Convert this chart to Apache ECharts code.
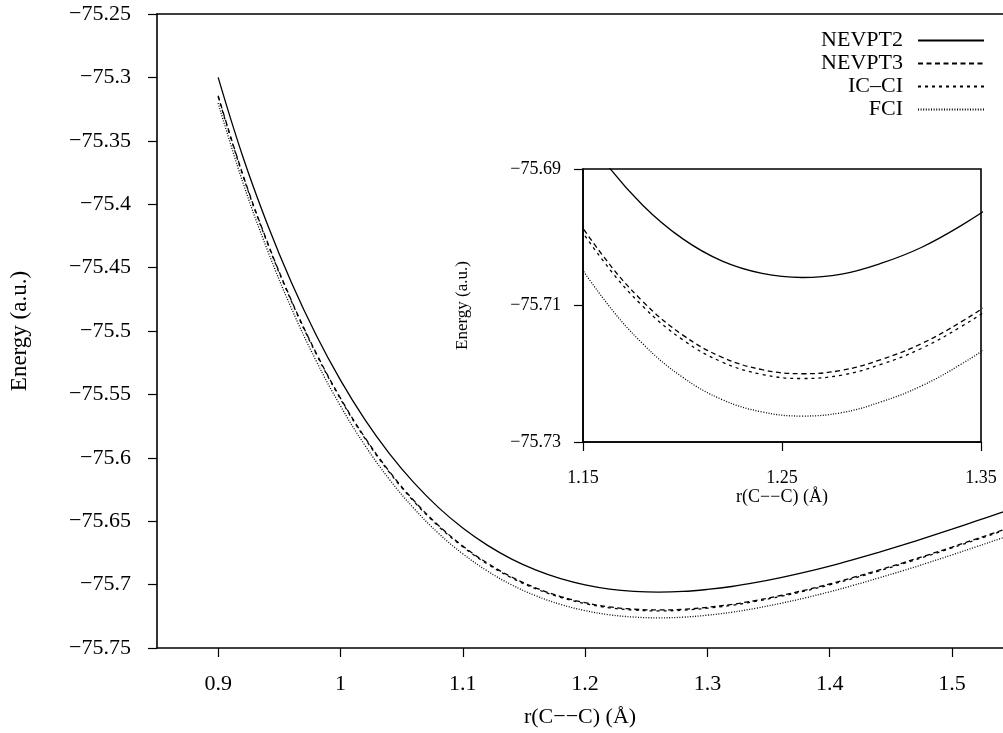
<!DOCTYPE html>
<html>
<head>
<meta charset="utf-8">
<script src="https://cdn.jsdelivr.net/npm/echarts@6/dist/echarts.min.js"></script>
<style>
    html, body { margin: 0; padding: 0; background: #fff; }
    #chart { width: 1003px; height: 733px; }
</style>
</head>
<body>
<div id="chart"></div>
<script>
'use strict';

// bond length r(C--C) in angstrom
var rValues = [0.90, 0.92, 0.94, 0.96, 0.98, 1.00, 1.02, 1.04, 1.06, 1.08,
    1.10, 1.12, 1.14, 1.16, 1.18, 1.20, 1.22, 1.24, 1.26, 1.28,
    1.30, 1.32, 1.34, 1.36, 1.38, 1.40, 1.42, 1.44, 1.46, 1.48,
    1.50, 1.52, 1.54, 1.56];

// energies (a.u.)
var nevpt2 = [-75.3000, -75.3620, -75.4152, -75.4620, -75.5030, -75.5388, -75.5699, -75.5967, -75.6196, -75.6391,
    -75.6554, -75.6689, -75.6799, -75.6886, -75.6953, -75.7002, -75.7035, -75.7053, -75.7059, -75.7054,
    -75.7038, -75.7015, -75.6983, -75.6945, -75.6902, -75.6854, -75.6801, -75.6745, -75.6687, -75.6626,
    -75.6563, -75.6498, -75.6433, -75.6367];
var nevpt3 = [-75.3145, -75.3761, -75.4293, -75.4761, -75.5171, -75.5529, -75.5840, -75.6108, -75.6337, -75.6532,
    -75.6695, -75.6830, -75.6940, -75.7027, -75.7094, -75.7143, -75.7176, -75.7194, -75.7200, -75.7195,
    -75.7179, -75.7156, -75.7124, -75.7086, -75.7043, -75.6995, -75.6942, -75.6886, -75.6828, -75.6767,
    -75.6704, -75.6639, -75.6574, -75.6508];
var icci = [-75.3152, -75.3768, -75.4300, -75.4768, -75.5178, -75.5536, -75.5847, -75.6115, -75.6344, -75.6539,
    -75.6702, -75.6837, -75.6947, -75.7034, -75.7101, -75.7150, -75.7183, -75.7201, -75.7207, -75.7202,
    -75.7186, -75.7163, -75.7131, -75.7093, -75.7050, -75.7002, -75.6949, -75.6893, -75.6835, -75.6774,
    -75.6711, -75.6646, -75.6581, -75.6515];
var fci = [-75.3203, -75.3823, -75.4355, -75.4823, -75.5233, -75.5591, -75.5902, -75.6170, -75.6399, -75.6594,
    -75.6757, -75.6892, -75.7002, -75.7089, -75.7156, -75.7205, -75.7238, -75.7256, -75.7262, -75.7257,
    -75.7241, -75.7218, -75.7186, -75.7148, -75.7105, -75.7057, -75.7004, -75.6948, -75.6890, -75.6829,
    -75.6766, -75.6701, -75.6636, -75.6570];

var seriesNames = ['NEVPT2', 'NEVPT3', 'IC\u2013CI', 'FCI'];
var seriesValues = [nevpt2, nevpt3, icci, fci];

var mainXTicks = [0.9, 1.0, 1.1, 1.2, 1.3, 1.4, 1.5];
var insetXTicks = [1.15, 1.25, 1.35];
var insetYTicks = [-75.73, -75.71, -75.69];

var font = 'Liberation Serif';
var lineTypes = ['solid', [5, 3.5], [3, 4], [1, 1.6]];

// minus sign label, trailing zero dropped like the original plot
function minusLabel(v) {
    var s = Math.abs(v).toFixed(2);
    if (s.charAt(s.length - 1) === '0') s = s.slice(0, -1);
    return (v < 0 ? '\u2212' : '') + s;
}

var myChart = echarts.init(document.getElementById('chart'));

var axisLine = {show: true, lineStyle: {color: '#000', width: 1.6}};
var axisTick = {show: true, length: 9, lineStyle: {color: '#000', width: 1.2}};

var series = [];
seriesValues.forEach(function (vals, i) {
    var data = rValues.map(function (r, k) { return [r, vals[k]]; });
    [[0, 0, 2], [2, 1, 6]].forEach(function (ax) {
        series.push({
            name: seriesNames[i],
            type: 'line',
            xAxisIndex: ax[0],
            yAxisIndex: ax[1],
            data: data,
            showSymbol: false,
            symbol: 'none',
            smooth: 0.4,
            z: ax[2],
            color: '#000',
            itemStyle: {color: '#000'},
            lineStyle: {color: '#000', width: 1.3, type: lineTypes[i]}
        });
    });
});

var option = {
    animation: false,
    color: ['#000'],
    textStyle: {fontFamily: font, color: '#000'},
    grid: [
        {left: 154, top: 14, right: 0, bottom: 82, containLabel: false},
        {left: 583, top: 169, width: 398, height: 273, show: true, z: 3,
            backgroundColor: '#fff', borderColor: '#000', borderWidth: 1.6}
    ],
    legend: {
        data: seriesNames,
        orient: 'vertical',
        align: 'right',
        right: 13,
        top: 24,
        itemWidth: 66,
        itemHeight: 10,
        itemGap: 0,
        itemStyle: {opacity: 0},
        textStyle: {fontFamily: font, fontSize: 22, color: '#000', lineHeight: 23, padding: [0, 10, 0, 0]}
    },
    xAxis: [
        {
            gridIndex: 0, type: 'value', min: 0.85, max: 1.5417,
            axisLine: axisLine, axisTick: Object.assign({customValues: mainXTicks}, axisTick),
            splitLine: {show: false},
            axisLabel: {customValues: mainXTicks, fontFamily: font, fontSize: 22, color: '#000', margin: 25},
            name: 'r(C\u2212\u2212C) (\u00c5)', nameLocation: 'middle', nameGap: 58,
            nameTextStyle: {fontFamily: font, fontSize: 22, color: '#000'}
        },
        {
            gridIndex: 0, type: 'value', position: 'top', min: 0.85, max: 1.5417,
            axisLine: axisLine, axisTick: {show: false}, axisLabel: {show: false}, splitLine: {show: false}
        },
        {
            gridIndex: 1, type: 'value', min: 1.15, max: 1.35, z: 5,
            axisLine: axisLine, axisTick: Object.assign({customValues: insetXTicks}, axisTick),
            splitLine: {show: false},
            axisLabel: {customValues: insetXTicks, fontFamily: font, fontSize: 18, color: '#000', margin: 27,
                formatter: function (v) { return v.toFixed(2); }},
            name: 'r(C\u2212\u2212C) (\u00c5)', nameLocation: 'middle', nameGap: 45,
            nameTextStyle: {fontFamily: font, fontSize: 18, color: '#000'}
        }
    ],
    yAxis: [
        {
            gridIndex: 0, type: 'value', min: -75.75, max: -75.25, interval: 0.05,
            axisLine: axisLine, axisTick: axisTick, splitLine: {show: false},
            axisLabel: {fontFamily: font, fontSize: 22, color: '#000', margin: 26, formatter: minusLabel},
            name: 'Energy (a.u.)', nameLocation: 'middle', nameGap: 126,
            nameTextStyle: {fontFamily: font, fontSize: 23, color: '#000'}
        },
        {
            gridIndex: 1, type: 'value', min: -75.73, max: -75.69, z: 5,
            axisLine: axisLine, axisTick: Object.assign({customValues: insetYTicks}, axisTick),
            splitLine: {show: false},
            axisLabel: {customValues: insetYTicks, fontFamily: font, fontSize: 18, color: '#000', margin: 22,
                formatter: minusLabel},
            name: 'Energy (a.u.)', nameLocation: 'middle', nameGap: 112,
            nameTextStyle: {fontFamily: font, fontSize: 17, color: '#000'}
        }
    ],
    series: series
};

myChart.setOption(option);
window.onresize = function () {
    myChart.resize();
};
</script>
</body>
</html>
